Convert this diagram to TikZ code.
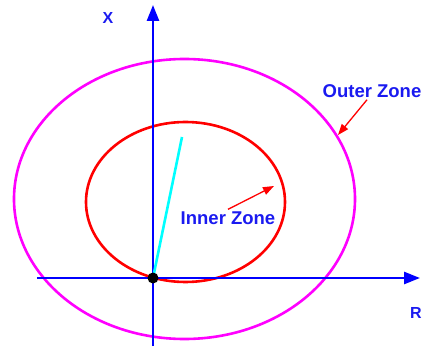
\documentclass[tikz,border=0pt]{standalone}
\usepackage{fontspec}
\setmainfont{Liberation Sans}
\usepackage{tikz}
\usetikzlibrary{arrows.meta}
\definecolor{axisBlue}{HTML}{0000FF}
\definecolor{labelBlue}{HTML}{1A1AF0}
\definecolor{outerMagenta}{HTML}{FF00FF}
\definecolor{innerRed}{HTML}{FF0000}
\definecolor{rayCyan}{HTML}{00FFFF}
\tikzset{
    zonelabel/.style={labelBlue, font=\fontsize{18.5}{21}\selectfont\bfseries, inner sep=0pt},
    axislabel/.style={labelBlue, font=\fontsize{16}{19}\selectfont\bfseries, inner sep=0pt},
    pointer/.style={innerRed, line width=1.3pt, -{Triangle[length=11pt,width=8pt]}}
}

\begin{document}
\begin{tikzpicture}[x=1pt, y=1pt]
    \useasboundingbox (-153,-73) rectangle (270,278);
    \draw[outerMagenta, line width=2.6pt] (31.5,79) ellipse [x radius=170.5, y radius=140];
    \draw[innerRed, line width=2.6pt] (32.5,76) ellipse [x radius=99.5, y radius=80];
    \coordinate (origin) at (0,0);
    \coordinate (rayEnd) at (29,141);
    \coordinate (xStart) at (0,-68);
    \coordinate (xEnd) at (0,273);
    \coordinate (rStart) at (-116,0);
    \coordinate (rEnd) at (267,0);
    \draw[axisBlue, line width=2.6pt, -{Triangle[length=16pt,width=12pt]}] (rStart) -- (rEnd);
    \draw[axisBlue, line width=2.6pt, -{Triangle[length=16pt,width=12pt]}] (xStart) -- (xEnd);
    \draw[rayCyan, line width=2.6pt] (origin) -- (rayEnd);
    \fill[black] (origin) circle (5.5);
    \node[axislabel] (xLabel) at (-45,260) {X};
    \node[axislabel] (rLabel) at (263,-35) {R};
    \node[zonelabel] (outerLabel) at (219,187) {Outer Zone};
    \node[zonelabel] (innerLabel) at (75,60) {Inner Zone};
    \coordinate (outerTip) at (185,143);
    \coordinate (innerTip) at (121,92);
    \draw[pointer] ([xshift=-5pt,yshift=-2pt]outerLabel.south) -- (outerTip);
    \draw[pointer] ([yshift=2pt]innerLabel.north) -- (innerTip);
\end{tikzpicture}
\end{document}
